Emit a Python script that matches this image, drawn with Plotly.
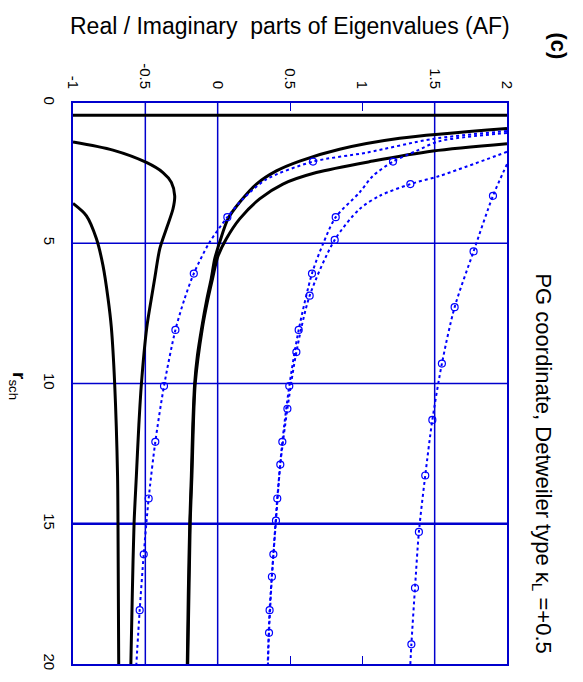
import plotly.graph_objects as go

# ---------------- data (value = Re/Im part, r = r_sch) ----------------
# black solid curves
blackH_v = [-1.0, 2.0]
blackH_r = [0.44, 0.44]

blackA_r = [0.91, 1.26, 1.65, 2.07, 2.42, 2.89, 3.54, 4.13, 4.96, 5.55, 6.25, 7.0, 8.0, 9.0, 10.0, 11.5, 13.3, 15.0, 17.5, 20.0]
blackA_v = [2.0, 1.258, 0.843, 0.567, 0.406, 0.268, 0.152, 0.071, 0.014, -0.02, -0.044, -0.075, -0.11, -0.14, -0.159, -0.172, -0.182, -0.193, -0.203, -0.21]

blackB_r = [1.45, 1.71, 2.07, 2.48, 2.89, 3.42, 4.13, 4.84, 5.49, 6.25, 7.0, 8.0, 10.0, 13.3, 15.0, 20.0]
blackB_v = [2.0, 1.488, 1.073, 0.682, 0.451, 0.29, 0.152, 0.06, 0.0, -0.035, -0.068, -0.105, -0.155, -0.178, -0.19, -0.207]

blackC_r = [1.39, 1.68, 2.12, 2.48, 2.83, 3.31, 3.78, 4.49, 5.19, 6.25, 6.96, 8.0, 10.0, 11.5, 13.3, 15.0, 17.5, 20.0]
blackC_v = [-1.0, -0.724, -0.493, -0.378, -0.32, -0.297, -0.309, -0.355, -0.4, -0.435, -0.458, -0.49, -0.527, -0.545, -0.562, -0.578, -0.59, -0.60]

blackD_r = [3.58, 4.02, 4.84, 5.79, 6.96, 8.0, 10.0, 13.3, 15.0, 20.0]
blackD_v = [-1.0, -0.907, -0.838, -0.793, -0.758, -0.735, -0.712, -0.692, -0.689, -0.684]

# blue dotted curves (line samples)
blue1_r = [1.0, 1.28, 1.77, 2.09, 2.72, 3.42, 4.07, 5.0, 6.08, 7.0, 8.09, 10.09, 12.08, 14.1, 16.09, 18.08, 20.0]
blue1_v = [2.0, 1.488, 1.028, 0.659, 0.337, 0.175, 0.067, -0.06, -0.165, -0.23, -0.292, -0.371, -0.431, -0.477, -0.511, -0.539, -0.562]

blue2_r = [1.07, 1.36, 1.71, 2.09, 2.6, 3.19, 4.07, 5.0, 6.08, 8.09, 10.09, 12.08, 14.1, 16.09, 18.08, 20.0]
blue2_v = [2.0, 1.534, 1.373, 1.212, 1.073, 0.981, 0.816, 0.73, 0.652, 0.56, 0.495, 0.447, 0.412, 0.385, 0.359, 0.346]

blue3_r = [1.74, 2.6, 2.89, 3.31, 3.78, 4.88, 6.87, 8.88, 10.9, 12.89, 14.89, 16.89, 18.89, 20.0]
blue3_v = [2.0, 1.534, 1.332, 1.12, 0.981, 0.809, 0.636, 0.544, 0.482, 0.433, 0.403, 0.375, 0.355, 0.348]

blue4_r = [2.18, 3.31, 5.29, 7.28, 9.29, 11.3, 13.28, 15.29, 17.29, 19.3, 20.0]
blue4_v = [2.0, 1.903, 1.769, 1.638, 1.55, 1.484, 1.435, 1.391, 1.364, 1.339, 1.332]

# circle markers on the blue curves
mk1_r = [2.09, 4.07, 6.08, 8.09, 10.09, 12.08, 14.1, 16.09, 18.08]
mk1_v = [0.659, 0.067, -0.165, -0.292, -0.371, -0.431, -0.477, -0.511, -0.539]
mk2_r = [2.09, 4.07, 6.08, 8.09, 10.09, 12.08, 14.1, 16.09, 18.08]
mk2_v = [1.212, 0.816, 0.652, 0.56, 0.495, 0.447, 0.412, 0.385, 0.359]
mk3_r = [2.89, 4.88, 6.87, 8.88, 10.9, 12.89, 14.89, 16.89, 18.89]
mk3_v = [1.332, 0.809, 0.636, 0.544, 0.482, 0.433, 0.403, 0.375, 0.355]
mk4_r = [3.31, 5.29, 7.28, 9.29, 11.3, 13.28, 15.29, 17.29, 19.3]
mk4_v = [1.903, 1.769, 1.638, 1.55, 1.484, 1.435, 1.391, 1.364, 1.339]

# reference lines and ticks
ref_values = [-0.5, 0.0, 1.5]
ref_r = [5, 10, 15]
ref_r_width = [1.5, 1.5, 2.5]
value_ticks = [-1, -0.5, 0, 0.5, 1, 1.5, 2]
value_ticktext = ["-1", "-0.5", "0", "0.5", "1", "1.5", "2"]
r_ticks = [0, 5, 10, 15, 20]
r_ticktext = ["0", "5", "10", "15", "20"]

FONT = "Liberation Sans, Arial, Helvetica, sans-serif"
BLUE = "#0000FF"
GRID = "#0000CD"

fig = go.Figure()

for v, r in [(blackH_v, blackH_r), (blackA_v, blackA_r), (blackB_v, blackB_r),
             (blackC_v, blackC_r), (blackD_v, blackD_r)]:
    fig.add_trace(go.Scatter(x=v, y=r, mode="lines", line=dict(color="black", width=3, shape="spline", smoothing=0.8),
                             hoverinfo="skip", showlegend=False))

for v, r in [(blue1_v, blue1_r), (blue2_v, blue2_r), (blue3_v, blue3_r), (blue4_v, blue4_r)]:
    fig.add_trace(go.Scatter(x=v, y=r, mode="lines", line=dict(color=BLUE, width=2, dash="dot", shape="spline", smoothing=0.8),
                             hoverinfo="skip", showlegend=False))

for v, r in [(mk1_v, mk1_r), (mk2_v, mk2_r), (mk3_v, mk3_r), (mk4_v, mk4_r)]:
    fig.add_trace(go.Scatter(x=v, y=r, mode="markers",
                             marker=dict(symbol="circle-open", size=7, color=BLUE, line=dict(width=1.2, color=BLUE)),
                             hoverinfo="skip", showlegend=False))

shapes = []
for v in ref_values:
    shapes.append(dict(type="line", xref="x", yref="paper", x0=v, x1=v, y0=0, y1=1,
                       line=dict(color=GRID, width=1.5), layer="below"))
for r, w in zip(ref_r, ref_r_width):
    shapes.append(dict(type="line", xref="paper", yref="y", x0=0, x1=1, y0=r, y1=r,
                       line=dict(color=GRID, width=w), layer="below"))

fig.update_layout(
    width=583, height=682,
    margin=dict(l=73, r=76, t=103, b=14),
    paper_bgcolor="white", plot_bgcolor="white",
    font=dict(family=FONT, color="black"),
    shapes=shapes,
    xaxis=dict(range=[-1, 2], side="top", tickvals=value_ticks, ticktext=value_ticktext,
               tickangle=90, ticks="inside", ticklen=8, tickcolor=GRID, tickwidth=1,
               ticklabelstandoff=7,
               showline=True, linecolor=GRID, linewidth=1.5, mirror="ticks",
               showgrid=False, zeroline=False, tickfont=dict(size=15, family=FONT, color="black")),
    yaxis=dict(range=[20, 0], tickvals=r_ticks, ticktext=r_ticktext,
               tickangle=90, ticks="inside", ticklen=8, tickcolor=GRID, tickwidth=1,
               ticklabelstandoff=9,
               showline=True, linecolor=GRID, linewidth=1.5, mirror="ticks",
               showgrid=False, zeroline=False, tickfont=dict(size=15, family=FONT, color="black")),
    annotations=[
        dict(text="Real / Imaginary  parts of Eigenvalues (AF)", xref="paper", yref="paper",
             x=(290 - 73) / 434, y=(668 - 25) / 565, xanchor="center", yanchor="middle", showarrow=False,
             font=dict(size=23, family=FONT, color="black")),
        dict(text="<b>(c)</b>", xref="paper", yref="paper", x=(559 - 73) / 434, y=(668 - 45) / 565,
             xanchor="center", yanchor="middle", showarrow=False, textangle=90,
             font=dict(size=22, family=FONT, color="black")),
        dict(text="PG coordinate, Detweiler type κ<sub>L</sub> =+0.5", xref="paper", yref="paper",
             x=(542 - 73) / 434, y=(668 - 466) / 565, xanchor="center", yanchor="middle",
             showarrow=False, textangle=90, font=dict(size=22, family=FONT, color="black")),
        dict(text="<b>r</b><sub>sch</sub>", xref="paper", yref="paper",
             x=(18 - 73) / 434, y=(668 - 388) / 565, xanchor="center", yanchor="middle",
             showarrow=False, textangle=90, font=dict(size=19, family=FONT, color="black")),
    ],
)

fig.write_html("out.html")
